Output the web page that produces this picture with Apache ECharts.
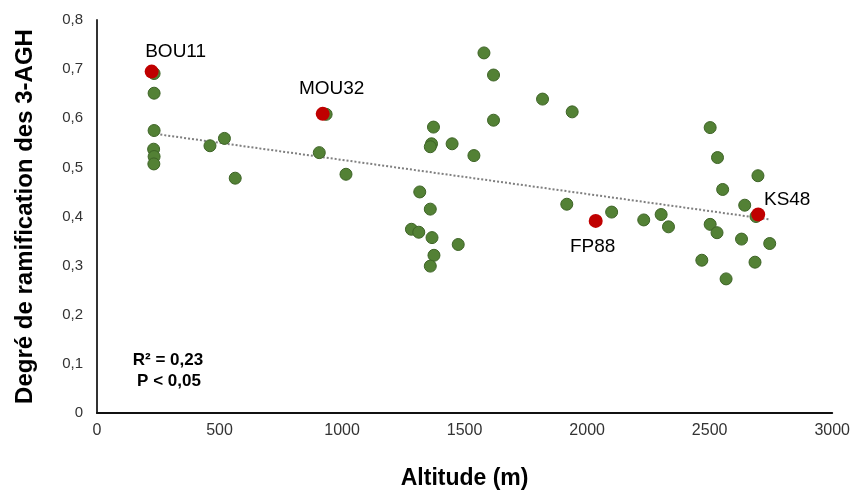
<!DOCTYPE html>
<html><head><meta charset="utf-8">
<script src="https://cdn.jsdelivr.net/npm/echarts@6/dist/echarts.min.js"></script>
<style>html,body{margin:0;padding:0;background:#fff;overflow:hidden}#c{width:853px;height:495px}</style>
</head><body><div id="c"></div>
<script>
const altitude = [233,233,233,231,233,232,461,520,564,935,907,1016,1579,1618,1818,1939,1618,1373,1365,1360,1449,1538,1317,1360,1917,2100,2302,1283,1313,1367,1474,1375,1360,2502,2532,2697,2553,2643,2689,2231,2332,2502,2530,2630,2745,2468,2685,2567];
const degre = [0.691,0.651,0.575,0.537,0.522,0.507,0.544,0.559,0.478,0.608,0.530,0.486,0.733,0.688,0.639,0.613,0.596,0.582,0.548,0.542,0.548,0.524,0.450,0.415,0.425,0.409,0.404,0.374,0.368,0.357,0.343,0.321,0.299,0.581,0.520,0.483,0.455,0.423,0.400,0.393,0.379,0.384,0.367,0.354,0.345,0.311,0.307,0.273];
const hlNames = ['BOU11','MOU32','FP88','KS48'];
const hlAltitude = [223,921,2035,2698];
const hlDegre = [0.695,0.609,0.391,0.404];
const trendX = [226,2746];
const trendY = [0.569,0.394];

const labelOffsets = [[24,-20],[9,-25],[-3,26],[29,-15]];
const chart = echarts.init(document.getElementById('c'), null, {renderer:'canvas', width:853, height:495});
const font = 'Liberation Sans, Arial, sans-serif';
chart.setOption({
  animation:false,
  grid:{left:97,right:19,top:20,bottom:76},
  xAxis:{type:'value',min:0,max:3000,interval:500,
    name:'Altitude (m)',nameLocation:'middle',nameGap:54,
    nameTextStyle:{fontFamily:font,fontWeight:'bold',fontSize:23,color:'#000'},
    axisLine:{show:true,lineStyle:{color:'#111',width:2}},
    axisTick:{show:false},splitLine:{show:false},
    axisLabel:{margin:10,fontFamily:font,fontSize:16,color:'#333',formatter:v=>String(v)}},
  yAxis:{type:'value',min:0,max:0.8,interval:0.1,
    name:'Degré de ramification des 3-AGH',nameLocation:'middle',nameGap:60,
    nameTextStyle:{fontFamily:font,fontWeight:'bold',fontSize:24,color:'#000'},
    axisLine:{show:true,lineStyle:{color:'#333',width:2}},
    axisTick:{show:false},splitLine:{show:false},
    axisLabel:{margin:14,fontFamily:font,fontSize:15,color:'#333',
      formatter:v=>v===0?'0':v.toFixed(1).replace('.',',')}},
  series:[
    {type:'line',data:trendX.map((x,i)=>[x,trendY[i]]),symbol:'none',
      lineStyle:{type:'dotted',color:'#7f7f7f',width:2},z:1},
    {type:'scatter',data:altitude.map((x,i)=>[x,degre[i]]),symbolSize:12,
      itemStyle:{color:'#538135',borderColor:'#3d6326',borderWidth:1,opacity:1},z:2},
    {type:'scatter',data:hlAltitude.map((x,i)=>({value:[x,hlDegre[i]],name:hlNames[i],
        label:{offset:labelOffsets[i]}})),symbolSize:14,
      itemStyle:{color:'#c00000',opacity:1},z:3,
      label:{show:true,position:'inside',formatter:p=>p.name,fontFamily:font,fontSize:19,color:'#000'}}
  ],
  graphic:[
    {type:'text',x:168,y:360,style:{text:'R² = 0,23',font:'bold 17px '+font,fill:'#000',textAlign:'center',textVerticalAlign:'middle'}},
    {type:'text',x:169,y:381,style:{text:'P < 0,05',font:'bold 17px '+font,fill:'#000',textAlign:'center',textVerticalAlign:'middle'}}
  ]
});
</script></body></html>
